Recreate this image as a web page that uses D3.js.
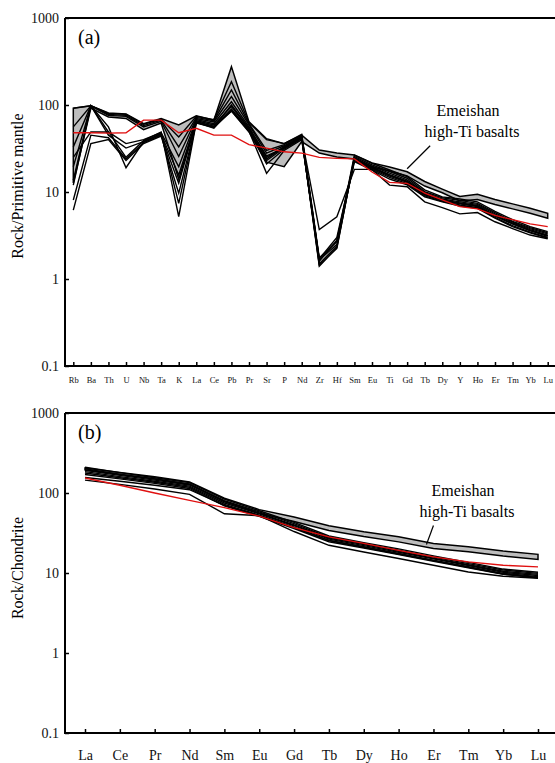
<!DOCTYPE html>
<html>
<head>
<meta charset="utf-8">
<script src="https://cdnjs.cloudflare.com/ajax/libs/d3/7.8.5/d3.min.js"></script>
<style>
  html, body { margin: 0; padding: 0; background: #fff; }
  svg text { font-family: "Liberation Serif", "DejaVu Serif", serif; }
</style>
</head>
<body>
<div class="chart"></div>
<script>
// (a) primitive mantle normalised trace elements
var spiderElems = ['Rb', 'Ba', 'Th', 'U', 'Nb', 'Ta', 'K', 'La', 'Ce', 'Pb', 'Pr', 'Sr', 'P', 'Nd',
                   'Zr', 'Hf', 'Sm', 'Eu', 'Ti', 'Gd', 'Tb', 'Dy', 'Y', 'Ho', 'Er', 'Tm', 'Yb', 'Lu'];

// Emeishan high-Ti basalt field, upper / lower bounds
var fieldUpperA = [92, 98, 81, 79, 61, 70, 59, 75, 67, 276, 64, 41, 36, 45,
                   30.4, 28, 26.6, 21.6, 19.4, 17.1, 13.2, 10.8, 8.9, 9.4, 8.2, 7.3, 6.5, 5.7];
var fieldLowerA = [12.7, 92, 73, 70, 52, 62, 14, 64, 56, 85, 49, 22, 19.5, 38,
                   28, 25.2, 24, 19.4, 17.4, 15.3, 11.7, 9.8, 7.9, 8.2, 7.2, 6.4, 5.7, 5.0];

// samples
var samplesA = [
  [56, 98, 80, 78, 60, 69, 43, 74, 68, 185, 63, 40, 36, 46, 1.75, 2.7, 26.5, 21.4, 17.9, 15.0, 10.6, 8.8, 8.3, 7.7, 6.0, 4.8, 4.0, 3.5],
  [33, 98, 78, 76, 58, 67, 33, 72, 66, 149, 61, 30, 35, 45, 1.65, 2.5, 25.5, 20.5, 17.2, 14.4, 10.1, 8.6, 8.0, 7.4, 5.8, 4.6, 3.9, 3.4],
  [19.5, 98, 76, 74, 56, 65, 25.6, 70, 64, 125, 59, 28, 34, 44, 1.45, 2.25, 24.8, 19.8, 16.5, 13.8, 9.8, 8.3, 7.7, 7.2, 5.6, 4.5, 3.8, 3.3],
  [13.7, 98, 49, 36, 40, 48, 19.5, 68, 61, 109, 56, 25, 33, 43, 1.4, 2.3, 24.2, 19.3, 15.8, 13.3, 9.5, 8.1, 7.5, 7.0, 5.4, 4.4, 3.7, 3.2],
  [12, 98, 45, 32, 38, 46, 15.7, 66, 59, 96, 53, 23, 32, 42, 1.7, 3.0, 23.6, 18.8, 15.2, 12.9, 9.3, 8.0, 7.3, 6.8, 5.3, 4.3, 3.6, 3.1],
  [8.1, 45, 42, 24, 37, 45, 12.6, 64, 57, 88, 51, 21, 31, 41, 1.6, 2.8, 23, 18.3, 14.7, 12.5, 9.0, 7.8, 7.1, 6.6, 5.1, 4.1, 3.45, 3.0],
  [6.2, 36, 40, 23, 36, 44, 9.7, 62, 55, 86, 50, 16.4, 30, 40, 1.7, 2.7, 22.4, 17.8, 14.1, 12.1, 8.8, 7.7, 6.9, 6.5, 5.0, 4.0, 3.4, 2.95],
  [92, 98, 56, 19, 38, 47, 7.4, 63, 54, 90, 51, 24, 33, 42, 3.7, 5.2, 18.2, 18.2, 12, 11.5, 7.7, 6.6, 5.6, 5.8, 4.55, 3.8, 3.2, 2.9],
  [25, 49, 49, 25, 39, 49, 5.2, 63, 56, 100, 54, 26, 32, 43, 1.5, 2.4, 24, 19, 15.6, 13.1, 9.4, 8.0, 7.4, 6.9, 5.3, 4.3, 3.6, 3.15]
];

var redA = [48, 48, 47.6, 48, 67, 67, 48, 54, 45, 45, 35, 32, 29, 28,
            25, 24.4, 24, 17, 12.9, 12.6, 9.7, 8.1, 6.8, 6.4, 5.4, 4.8, 4.3, 4.0];

// (b) chondrite normalised REE
var reeElems = ['La', 'Ce', 'Pr', 'Nd', 'Sm', 'Eu', 'Gd', 'Tb', 'Dy', 'Ho', 'Er', 'Tm', 'Yb', 'Lu'];

var fieldUpperB = [205, 180, 160, 137, 86, 62, 50, 39, 32.7, 28.3, 23.4, 21.3, 18.8, 17.1];
var fieldLowerB = [195, 170, 150, 128, 78, 56, 44, 34, 28.5, 24.5, 20.3, 18.4, 16.3, 14.8];

var samplesB = [
  [210, 180, 155, 135, 84, 60, 43, 29, 24, 20, 16.4, 13.6, 11.2, 10.2],
  [200, 172, 150, 130, 80, 58, 41.5, 28, 23.2, 19.3, 15.8, 13.1, 10.9, 9.9],
  [192, 166, 145, 126, 78, 56, 40, 27.2, 22.6, 18.7, 15.3, 12.7, 10.5, 9.6],
  [185, 160, 140, 122, 75, 55, 39, 26.5, 22, 18.2, 15, 12.4, 10.2, 9.3],
  [178, 155, 136, 118, 72, 53, 37.5, 25.6, 21.3, 17.6, 14.5, 12, 9.9, 9.0],
  [170, 150, 132, 114, 69, 51, 36, 24.6, 20.5, 17, 14, 11.6, 9.6, 8.7],
  [156, 140, 125, 110, 70, 52, 37, 25.5, 21, 17.3, 14.3, 11.8, 9.7, 8.8],
  [145, 128, 112, 96, 55, 52, 33, 22.2, 18.3, 15.2, 12.5, 10.3, 9.1, 8.6]
];

var redB = [154, 125, 100, 81, 65.7, 51.3, 37, 28.3, 23.4, 19.2, 15.9, 13.8, 12.5, 11.9];

var yTicks = [0.1, 1, 10, 100, 1000]
  , yTickLabels = ['0.1', '1', '10', '100', '1000'];

var w = 555
  , h = 763
  , serif = '"Liberation Serif", "DejaVu Serif", serif';

var svg = d3.select('.chart')
            .append('svg')
            .attr('width', w)
            .attr('height', h)
            .attr('font-family', serif);

var drawPanel = function (p) {
  var g = svg.append('g')
    , idx = d3.range(p.elems.length)
    , x = d3.scalePoint().domain(p.elems).range(p.xRange)
    , y = d3.scaleLog().domain([0.1, 1000]).range([p.bottom, p.top]);

  var line = d3.line()
    .x(function (d, i) { return x(p.elems[i]); })
    .y(function (d) { return y(d); });

  var area = d3.area()
    .x(function (i) { return x(p.elems[i]); })
    .y0(function (i) { return y(p.lower[i]); })
    .y1(function (i) { return y(p.upper[i]); });

  // high-Ti basalt field
  g.append('path')
    .datum(idx)
    .attr('d', area)
    .attr('fill', '#bdbdbd')
    .attr('stroke', '#000')
    .attr('stroke-width', 1.5);

  g.selectAll('path.sample')
    .data(p.samples)
    .enter()
    .append('path')
    .attr('class', 'sample')
    .attr('d', line)
    .attr('fill', 'none')
    .attr('stroke', '#000')
    .attr('stroke-width', 1.4);

  g.append('path')
    .datum(p.red)
    .attr('d', line)
    .attr('fill', 'none')
    .attr('stroke', '#e01010')
    .attr('stroke-width', 1.3);

  // axes
  var yAxis = g.append('g')
    .attr('transform', 'translate(' + p.left + ',0)')
    .call(d3.axisLeft(y)
      .tickValues(yTicks)
      .tickFormat(function (d, i) { return yTickLabels[i]; })
      .tickSizeInner(-4)
      .tickSizeOuter(0)
      .tickPadding(6));
  yAxis.select('.domain').remove();
  yAxis.attr('font-family', serif).attr('font-size', 14);
  yAxis.selectAll('line').attr('stroke-width', 1.5);
  yAxis.selectAll('text').attr('fill', '#111');

  var xAxis = g.append('g')
    .attr('transform', 'translate(0,' + p.bottom + ')')
    .call(d3.axisBottom(x)
      .tickSizeInner(-4)
      .tickSizeOuter(0)
      .tickPadding(p.xPad));
  xAxis.select('.domain').remove();
  xAxis.attr('font-family', serif).attr('font-size', p.xFont);
  xAxis.selectAll('line').attr('stroke-width', 1.5);
  xAxis.selectAll('text').attr('fill', '#111');

  // frame: top, left, bottom (right side runs off the page)
  g.append('path')
    .attr('d', 'M' + p.left + ',' + p.top + 'H' + p.right +
               'M' + p.left + ',' + p.top + 'V' + p.bottom + 'H' + p.right)
    .attr('fill', 'none')
    .attr('stroke', '#000')
    .attr('stroke-width', 2);

  g.append('text')
    .attr('x', p.left + 13)
    .attr('y', p.top + 26)
    .attr('font-size', 20)
    .text(p.tag);

  g.append('text')
    .attr('transform', 'translate(' + 23 + ',' + p.titleY + ') rotate(-90)')
    .attr('text-anchor', 'middle')
    .attr('font-size', 16)
    .text(p.title);

  // field label with leader
  var ax = x(p.elems[p.leadAt]) + p.leadShift
    , ay = y(p.upper[p.leadAt]) - p.leadDrop;
  g.append('line')
    .attr('x1', ax)
    .attr('y1', ay)
    .attr('x2', ax + p.leadDx)
    .attr('y2', ay - p.leadDy)
    .attr('stroke', '#000')
    .attr('stroke-width', 1.2);

  var lab = g.append('text')
    .attr('text-anchor', 'middle')
    .attr('font-size', 16);
  lab.append('tspan').attr('x', p.labX).attr('y', p.labY).text('Emeishan');
  lab.append('tspan').attr('x', p.labX + 4).attr('y', p.labY + 21).text('high-Ti basalts');
};

drawPanel({
  elems: spiderElems, upper: fieldUpperA, lower: fieldLowerA,
  samples: samplesA, red: redA,
  left: 65, right: 556, top: 18, bottom: 366, xRange: [73.3, 547.7],
  xPad: 11, xFont: 8.5, tag: '(a)',
  title: 'Rock/Primitive mantle', titleY: 186,
  leadAt: 19, leadShift: 0, leadDrop: 3, leadDx: 23, leadDy: 23,
  labX: 468, labY: 116
});

drawPanel({
  elems: reeElems, upper: fieldUpperB, lower: fieldLowerB,
  samples: samplesB, red: redB,
  left: 65, right: 556, top: 413, bottom: 733, xRange: [85, 538],
  xPad: 17, xFont: 14, tag: '(b)',
  title: 'Rock/Chondrite', titleY: 568,
  leadAt: 10, leadShift: -7, leadDrop: -1, leadDx: 7, leadDy: 19,
  labX: 463, labY: 496
});
</script>
</body>
</html>
